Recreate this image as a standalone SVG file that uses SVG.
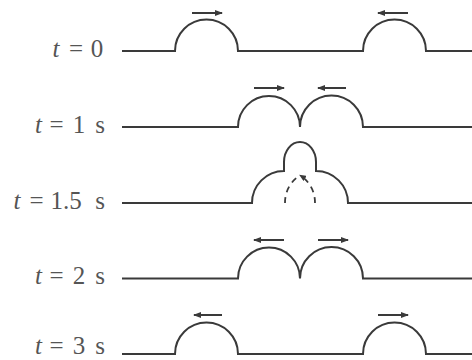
<svg xmlns="http://www.w3.org/2000/svg" width="472" height="360" viewBox="0 0 472 360">
<style>
.w{fill:none;stroke:#3a3a3a;stroke-width:2}
.a{fill:none;stroke:#3a3a3a;stroke-width:2;marker-end:url(#ah)}
.d{fill:none;stroke:#3a3a3a;stroke-width:1.8;stroke-dasharray:6 5}
text{font-family:"Liberation Serif","Times New Roman",serif;font-size:25px;fill:#555;text-anchor:middle}
.i{font-style:italic}
</style>
<defs>
<marker id="ah" markerWidth="8" markerHeight="6" refX="7" refY="3" orient="auto" markerUnits="userSpaceOnUse">
<path d="M0,0 L8,3 L0,6 Z" fill="#3a3a3a"/>
</marker>
<marker id="ah2" markerWidth="7" markerHeight="6" refX="6" refY="3" orient="auto" markerUnits="userSpaceOnUse">
<path d="M0,0 L7,3 L0,6 Z" fill="#3a3a3a"/>
</marker>
</defs>
<g id="labels">
<text class="i" x="56" y="57">t</text><text x="76" y="57">=</text><text x="97" y="57">0</text>
<text class="i" x="38.5" y="132.5">t</text><text x="56.5" y="132.5">=</text><text x="79" y="132.5">1</text><text x="100" y="132.5">s</text>
<text class="i" x="17" y="208.5">t</text><text x="36.5" y="208.5">=</text><text x="66" y="208.5">1.5</text><text x="100" y="208.5">s</text>
<text class="i" x="38.5" y="284">t</text><text x="56.5" y="284">=</text><text x="79" y="284">2</text><text x="100" y="284">s</text>
<text class="i" x="38.5" y="354">t</text><text x="56.5" y="354">=</text><text x="79" y="354">3</text><text x="100" y="354">s</text>
</g>
<g id="row-t0">
<path class="w" d="M122,51 H175 A31.5,31.5 0 0 1 238,51 H363 A31.5,31.5 0 0 1 426,51 H472"/>
<path class="a" d="M192,13 H222"/>
<path class="a" d="M408,13 H378"/>
</g>
<g id="row-t1">
<path class="w" d="M122,127 H238 A31,31 0 0 1 300,127 A31.5,31.5 0 0 1 363,127 H472"/>
<path class="a" d="M254,88 H284"/>
<path class="a" d="M346,88 H318"/>
</g>
<g id="row-t15">
<path class="w" d="M122,203 H252 A32,32 0 0 1 284,171 V162 A16,20 0 0 1 316,162 V171 A32,32 0 0 1 348,203 H472"/>
<path class="d" d="M285,203 A32,32 0 0 1 300,175.3"/>
<path class="d" d="M315,203 A32,32 0 0 0 300,175.3" style="marker-end:url(#ah2)"/>
</g>
<g id="row-t2">
<path class="w" d="M122,278.5 H238 A31,31 0 0 1 300,278.5 A31.5,31.5 0 0 1 363,278.5 H472"/>
<path class="a" d="M284,240 H254"/>
<path class="a" d="M318,240 H348"/>
</g>
<g id="row-t3">
<path class="w" d="M122,354 H175 A31.5,31.5 0 0 1 238,354 H363 A31.5,31.5 0 0 1 426,354 H472"/>
<path class="a" d="M222,315 H194"/>
<path class="a" d="M378,315 H408"/>
</g>
</svg>
